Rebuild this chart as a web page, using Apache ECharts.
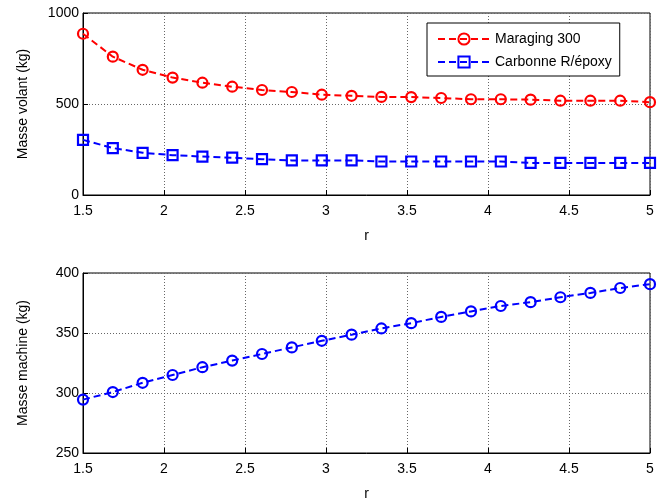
<!DOCTYPE html>
<html><head><meta charset="utf-8">
<script src="https://cdn.jsdelivr.net/npm/echarts@6/dist/echarts.min.js"></script>
<style>html,body{margin:0;padding:0;background:#fff}#c{width:667px;height:502px}</style>
</head><body><div id="c"></div>
<script>
const rValues = [1.5, 1.684, 1.868, 2.053, 2.237, 2.421, 2.605, 2.789, 2.974, 3.158, 3.342, 3.526, 3.711, 3.895, 4.079, 4.263, 4.447, 4.632, 4.816, 5];
const maraging = [886, 760, 688, 645, 617, 595, 577, 566, 551, 545, 539, 538, 533, 526, 526, 524, 518, 518, 518, 510];
const carbone = [303, 258, 232, 219, 211, 205, 197, 190, 190, 190, 184, 184, 184, 184, 184, 176, 176, 176, 176, 176];
const machine = [294.5, 300.8, 308.5, 315, 321.5, 327, 332.5, 338, 343.5, 348.6, 353.8, 358.2, 363.4, 368, 372.5, 375.7, 379.8, 383.4, 387.5, 390.7];
const seriesNames = ['Maraging 300', 'Carbonne R/époxy'];
const xTicks = {min: 1.5, max: 5, interval: 0.5};
const yTop = {min: 0, max: 1000, interval: 500};
const yBottom = {min: 250, max: 400, interval: 50};

const font = 'Liberation Sans, Arial, sans-serif';
const fs = 14;
const pair = (xs, ys) => xs.map((x, i) => [x, ys[i]]);
const grid = {show: true, borderColor: '#000', borderWidth: 1, backgroundColor: '#fff'};
const splitLine = {show: true, lineStyle: {color: '#666', type: [1, 2], width: 1}};
function xAxis(idx) {
  return {type: 'value', gridIndex: idx, min: xTicks.min, max: xTicks.max, interval: xTicks.interval,
    name: 'r', nameLocation: 'middle', nameGap: 34,
    nameTextStyle: {color: '#000', fontFamily: font, fontSize: fs},
    axisLine: {show: true, onZero: false, lineStyle: {color: '#000'}},
    axisTick: {show: true, inside: true, length: 5, lineStyle: {color: '#000'}},
    axisLabel: {color: '#000', fontFamily: font, fontSize: fs, margin: 9, formatter: v => String(v)},
    splitLine: splitLine};
}
function yAxis(idx, r, name) {
  return {type: 'value', gridIndex: idx, min: r.min, max: r.max, interval: r.interval,
    name: name, nameLocation: 'middle', nameGap: 53, nameRotate: 90,
    nameTextStyle: {color: '#000', fontFamily: font, fontSize: fs},
    axisLine: {show: true, lineStyle: {color: '#000'}},
    axisTick: {show: true, inside: true, length: 5, lineStyle: {color: '#000'}},
    axisLabel: {color: '#000', fontFamily: font, fontSize: fs, margin: 4, formatter: v => String(v)},
    splitLine: splitLine};
}
function lineSeries(name, data, color, symbol, xi, yi) {
  return {name: name, type: 'line', xAxisIndex: xi, yAxisIndex: yi, data: data,
    symbol: symbol, symbolSize: 10, showAllSymbol: true,
    lineStyle: {color: color, width: 2, type: [7, 4]},
    itemStyle: {color: 'rgba(255,255,255,0)', borderColor: color, borderWidth: 2.2},
    emphasis: {disabled: true}, animation: false, z: 3};
}
const chart = echarts.init(document.getElementById('c'), null, {renderer: 'canvas'});
chart.setOption({
  backgroundColor: '#fff',
  animation: false,
  grid: [
    Object.assign({left: 83, right: 17, top: 13, height: 182}, grid),
    Object.assign({left: 83, right: 17, top: 273, height: 183}, grid)
  ],
  xAxis: [xAxis(0), xAxis(1)],
  yAxis: [yAxis(0, yTop, 'Masse volant (kg)'), yAxis(1, yBottom, 'Masse machine (kg)')],
  legend: {
    data: seriesNames, orient: 'vertical', left: 427, top: 23,
    backgroundColor: '#fff', borderColor: '#000', borderWidth: 1, padding: [9, 8, 7, 10],
    itemWidth: 52, itemHeight: 14, itemGap: 9,
    textStyle: {color: '#000', fontFamily: font, fontSize: fs},
    selectedMode: false
  },
  series: [
    lineSeries(seriesNames[0], pair(rValues, maraging), '#ff0000', 'circle', 0, 0),
    lineSeries(seriesNames[1], pair(rValues, carbone), '#0000ff', 'rect', 0, 0),
    lineSeries('machine', pair(rValues, machine), '#0000ff', 'circle', 1, 1)
  ]
});
</script></body></html>
